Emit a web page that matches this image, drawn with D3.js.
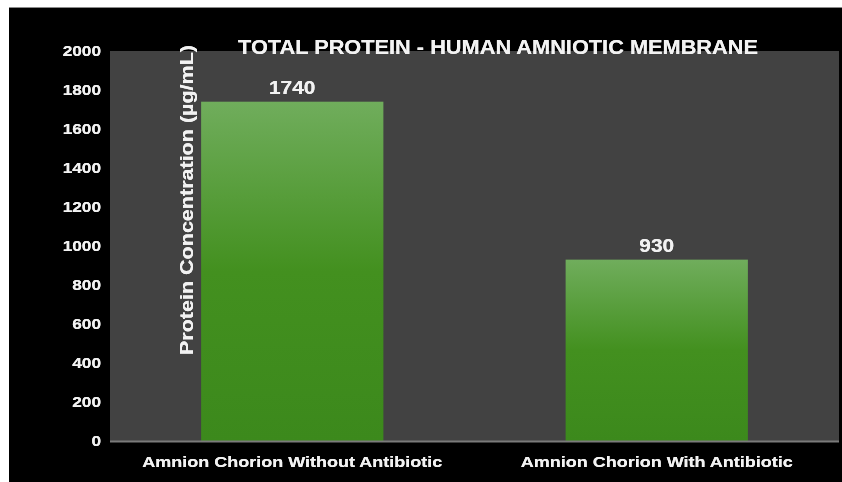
<!DOCTYPE html>
<html>
<head>
<meta charset="utf-8">
<script src="https://cdn.jsdelivr.net/npm/d3@7"></script>
<style>
  html, body { margin: 0; padding: 0; background: #ffffff; }
  svg { display: block; }
  text { font-family: "Liberation Sans", Arial, sans-serif; font-weight: bold; fill: #f2f2f2; }
</style>
</head>
<body>
<svg id="chart" width="842" height="482"></svg>
<script>
// Chart data
const categories = ["Amnion Chorion Without Antibiotic", "Amnion Chorion With Antibiotic"];
const values = [1740, 930];
const yTicks = [0, 200, 400, 600, 800, 1000, 1200, 1400, 1600, 1800, 2000];
const chartTitle = "TOTAL PROTEIN - HUMAN AMNIOTIC MEMBRANE";
const yTitle = "Protein Concentration (µg/mL)";

const W = 842, H = 482;
const plot = { left: 110, right: 839, top: 51, bottom: 441 };

const svg = d3.select("#chart");

// widen a text element's glyphs by a factor (chunky, stretched lettering)
function widen(sel, factor) {
  sel.each(function () {
    const len = this.getComputedTextLength();
    d3.select(this).attr("textLength", len * factor).attr("lengthAdjust", "spacingAndGlyphs");
  });
}

// soft halo used on the labels
const defs = svg.append("defs");
const glow = defs.append("filter").attr("id", "glow")
  .attr("x", "-10%").attr("y", "-30%").attr("width", "120%").attr("height", "160%");
glow.append("feGaussianBlur").attr("in", "SourceGraphic").attr("stdDeviation", 0.6).attr("result", "b");
const merge = glow.append("feMerge");
merge.append("feMergeNode").attr("in", "b");
merge.append("feMergeNode").attr("in", "SourceGraphic");

// bar fill: light green on top fading to deep green
const grad = defs.append("linearGradient").attr("id", "barFill")
  .attr("x1", 0).attr("y1", 0).attr("x2", 0).attr("y2", 1);
grad.append("stop").attr("offset", "0%").attr("stop-color", "#70ad5c");
grad.append("stop").attr("offset", "50%").attr("stop-color", "#43901f");
grad.append("stop").attr("offset", "100%").attr("stop-color", "#3c891c");

// frame: white margin on top/left, black canvas
svg.append("rect").attr("x", 0).attr("y", 0).attr("width", W).attr("height", H).attr("fill", "#ffffff");
svg.append("rect").attr("x", 9).attr("y", 7).attr("width", W - 9).attr("height", H - 7).attr("fill", "#000000");
svg.append("line").attr("x1", 9).attr("x2", W).attr("y1", 7.5).attr("y2", 7.5).attr("stroke", "#8a8a8a").attr("stroke-width", 1);

// plot area
svg.append("rect")
  .attr("x", plot.left).attr("y", plot.top)
  .attr("width", plot.right - plot.left).attr("height", plot.bottom - plot.top)
  .attr("fill", "#424242");

const x = d3.scaleBand().domain(categories).range([plot.left, plot.right]).paddingInner(0.5).paddingOuter(0.25);
const y = d3.scaleLinear().domain([0, 2000]).range([plot.bottom, plot.top]);

// bars
svg.append("g").selectAll("rect").data(values).join("rect")
  .attr("x", (d, i) => x(categories[i]))
  .attr("y", d => y(d))
  .attr("width", x.bandwidth())
  .attr("height", d => y(0) - y(d))
  .attr("fill", "url(#barFill)");

// baseline
svg.append("line")
  .attr("x1", plot.left).attr("x2", plot.right)
  .attr("y1", plot.bottom + 0.5).attr("y2", plot.bottom + 0.5)
  .attr("stroke", "#7a7a7a").attr("stroke-width", 2);

// y axis (labels only)
const yAxis = d3.axisLeft(y).tickValues(yTicks).tickSize(0).tickPadding(0).tickFormat(d3.format("d"));
const yg = svg.append("g").attr("transform", `translate(${plot.left - 9},0)`).call(yAxis);
yg.select(".domain").remove();
yg.selectAll("text").attr("font-size", 15).attr("fill", "#f2f2f2")
  .attr("font-family", "Liberation Sans, Arial, sans-serif").attr("font-weight", "bold")
  .attr("filter", "url(#glow)");
widen(yg.selectAll("text"), 1.15);

// x axis (labels only)
const xAxis = d3.axisBottom(x).tickSize(0).tickPadding(0);
const xg = svg.append("g").attr("transform", `translate(0,${plot.bottom + 15})`).call(xAxis);
xg.select(".domain").remove();
xg.selectAll("text").attr("font-size", 15).attr("fill", "#f2f2f2")
  .attr("font-family", "Liberation Sans, Arial, sans-serif").attr("font-weight", "bold")
  .attr("filter", "url(#glow)");
widen(xg.selectAll("text"), 1.2);

// value labels
const vl = svg.append("g").selectAll("text").data(values).join("text")
  .attr("x", (d, i) => x(categories[i]) + x.bandwidth() / 2)
  .attr("y", d => y(d) - 8)
  .attr("text-anchor", "middle")
  .attr("font-size", 19)
  .attr("filter", "url(#glow)")
  .text(d => d);
widen(vl, 1.1);

// title
svg.append("text")
  .attr("x", 498).attr("y", 54)
  .attr("text-anchor", "middle")
  .attr("font-size", 20)
  .attr("textLength", 520)
  .attr("lengthAdjust", "spacingAndGlyphs")
  .attr("filter", "url(#glow)")
  .text(chartTitle);

// y axis title, drawn inside the plot
svg.append("text")
  .attr("transform", `translate(193,200) rotate(-90)`)
  .attr("text-anchor", "middle")
  .attr("font-size", 18)
  .attr("textLength", 310)
  .attr("lengthAdjust", "spacingAndGlyphs")
  .attr("filter", "url(#glow)")
  .text(yTitle);
</script>
</body>
</html>
